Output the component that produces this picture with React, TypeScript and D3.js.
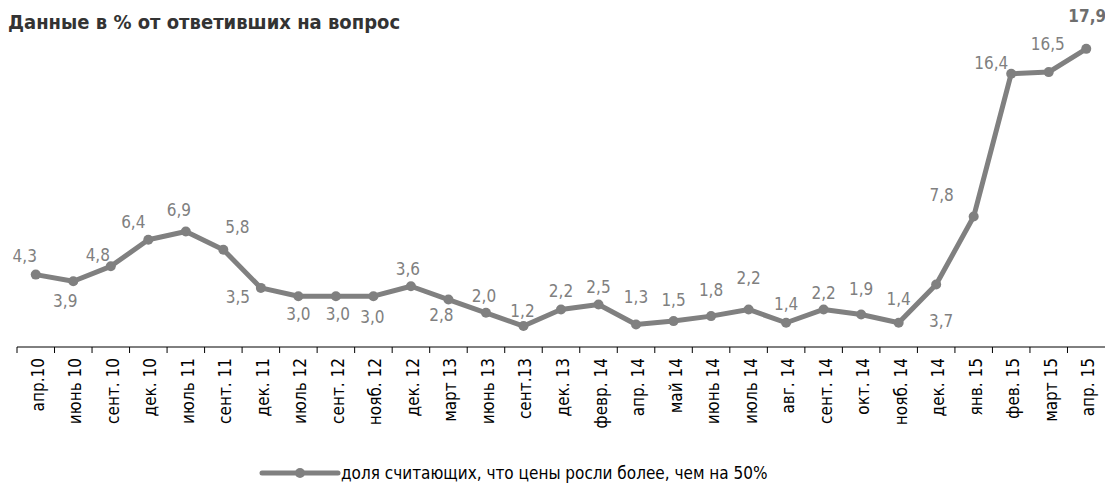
import * as d3 from 'd3';

const categories = [
  'апр.10', 'июнь 10', 'сент. 10', 'дек. 10', 'июль 11', 'сент. 11', 'дек. 11',
  'июль 12', 'сент. 12', 'нояб. 12', 'дек. 12', 'март 13', 'июнь 13', 'сент.13',
  'дек. 13', 'февр. 14', 'апр. 14', 'май 14', 'июнь 14', 'июль 14', 'авг. 14',
  'сент. 14', 'окт. 14', 'нояб. 14', 'дек. 14', 'янв. 15', 'фев. 15', 'март 15', 'апр. 15',
];

const values = [
  4.3, 3.9, 4.8, 6.4, 6.9, 5.8, 3.5, 3.0, 3.0, 3.0, 3.6, 2.8, 2.0, 1.2, 2.2,
  2.5, 1.3, 1.5, 1.8, 2.2, 1.4, 2.2, 1.9, 1.4, 3.7, 7.8, 16.4, 16.5, 17.9,
];

// label placement relative to its point (px), as in the original layout
const labelOffsets: [number, number][] = [
  [-11, -19], [-8, 20], [-13, -11], [-15, -18], [-7, -21], [14, -23], [-23, 9],
  [0, 18], [2, 18], [-1, 21], [-3, -17], [-7, 16], [-2, -17], [-1, -15], [0, -18],
  [0, -17], [0, -27], [0, -21], [0, -26], [0, -31], [0, -19], [0, -16], [0, -25],
  [0, -24], [5, 36], [-32, -21], [-20, -11], [-1, -28], [1, -33],
];

const title = 'Данные в % от ответивших на вопрос';
const seriesName = 'доля считающих, что цены росли более, чем на 50%';

const width = 1105;
const height = 495;
const lineColor = '#808080';
const font = '"DejaVu Sans Condensed", "Liberation Sans Narrow", "Roboto", sans-serif';

export default function App() {
  const x = d3.scaleBand<string>()
    .domain(categories)
    .range([17, 1105]);

  const y = d3.scaleLinear()
    .domain([0, 20])
    .range([346, 14]);

  const cx = (i: number) => (x(categories[i]) ?? 0) + x.bandwidth() / 2;

  const line = d3.line<number>()
    .x((_, i) => cx(i))
    .y(d => y(d));

  const fmt = (v: number) => v.toFixed(1).replace('.', ',');
  const axisY = y(0) + 1;
  const last = values.length - 1;

  return (
    <svg width={width} height={height} style={{ position: 'absolute', left: 0, top: 0, background: '#fff' }}>
      <text x={8} y={29} fontFamily={font} fontSize={20} fontWeight="bold" fill="#333">
        {title}
      </text>

      {/* x axis */}
      <line x1={17} x2={1105} y1={axisY} y2={axisY} stroke="#000" strokeWidth={1} />
      {categories.map((c, i) => (
        <line key={'t' + i} x1={x(c)!} x2={x(c)!} y1={axisY} y2={axisY + 6} stroke="#000" strokeWidth={1} />
      ))}
      {categories.map((c, i) => (
        <text
          key={'l' + i}
          transform={`translate(${cx(i) + 8},${axisY + 11}) rotate(-90)`}
          textAnchor="end"
          fontFamily={font}
          fontSize={17}
          fill="#000"
        >
          {c}
        </text>
      ))}

      {/* series */}
      <path d={line(values) ?? ''} fill="none" stroke={lineColor} strokeWidth={5} strokeLinejoin="round" />
      {values.map((v, i) => (
        <circle key={'p' + i} cx={cx(i)} cy={y(v)} r={5} fill={lineColor} />
      ))}
      {values.map((v, i) => (
        <text
          key={'v' + i}
          x={cx(i) + labelOffsets[i][0]}
          y={y(v) + labelOffsets[i][1]}
          dy="0.35em"
          textAnchor="middle"
          fontFamily={font}
          fontSize={17}
          fontWeight={i === last ? 'bold' : 'normal'}
          fill={i === last ? '#6e6e6e' : lineColor}
        >
          {fmt(v)}
        </text>
      ))}

      {/* legend */}
      <line x1={262} x2={338} y1={473} y2={473} stroke={lineColor} strokeWidth={5} strokeLinecap="round" />
      <circle cx={300} cy={473} r={5} fill={lineColor} />
      <text x={341} y={479} fontFamily={font} fontSize={17} fill="#000">
        {seriesName}
      </text>
    </svg>
  );
}
